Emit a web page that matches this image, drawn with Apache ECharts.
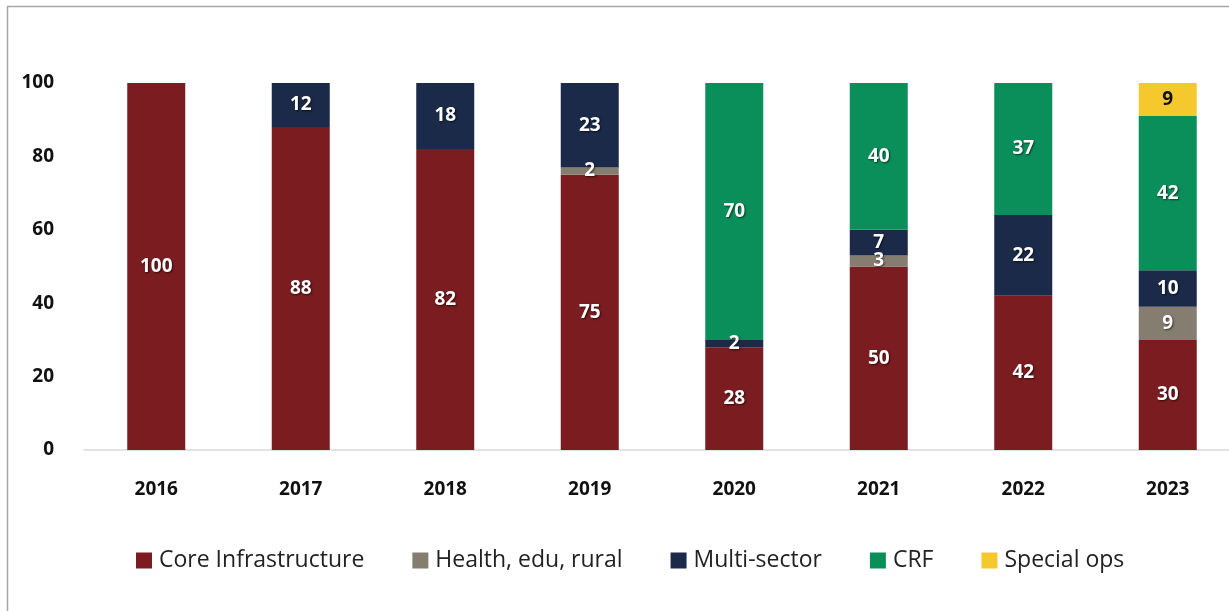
<!DOCTYPE html>
<html><head><meta charset="utf-8">
<script src="https://cdn.jsdelivr.net/npm/echarts@6/dist/echarts.min.js"></script>
<style>html,body{margin:0;padding:0;background:#fff;overflow:hidden}#c{width:1240px;height:611px}</style>
</head><body><div id="c"></div>
<script>
const years = ['2016','2017','2018','2019','2020','2021','2022','2023'];
const coreInfra = [100, 88, 82, 75, 28, 50, 42, 30];
const healthEduRural = [0, 0, 0, 2, 0, 3, 0, 9];
const multiSector = [0, 12, 18, 23, 2, 7, 22, 10];
const crf = [0, 0, 0, 0, 70, 40, 37, 42];
const specialOps = [0, 0, 0, 0, 0, 0, 0, 9];
const yTicks = [0, 20, 40, 60, 80, 100];

const FONT = '"Open Sans", "Noto Sans", sans-serif';
function mk(name, data, color, labelColor, shadow) {
  return {
    name, type: 'bar', stack: 'a', data, barWidth: 58,
    itemStyle: { color },
    label: {
      show: true, position: 'inside', fontFamily: FONT, fontWeight: 'bold', fontSize: 19,
      color: labelColor,
      textShadowColor: shadow ? 'rgba(0,0,0,0.6)' : 'transparent',
      textShadowBlur: shadow ? 2 : 0, textShadowOffsetX: shadow ? 1 : 0, textShadowOffsetY: shadow ? 1 : 0,
      formatter: p => p.value ? String(p.value) : ''
    }
  };
}
const chart = echarts.init(document.getElementById('c'));
chart.setOption({
  animation: false,
  backgroundColor: '#fff',
  graphic: [{ type: 'rect', shape: { x: 7.5, y: 6.5, width: 1300, height: 700 }, style: { fill: 'none', stroke: '#a6a6a6', lineWidth: 1.5 }, z: -1 }],
  grid: { left: 84, right: 0, top: 83, bottom: 161, containLabel: false },
  legend: {
    left: 131, top: 544, itemWidth: 16, itemHeight: 16, itemGap: 48, icon: 'rect',
    textStyle: { fontFamily: FONT, fontSize: 23, color: '#222', padding: [0, 0, 0, 2] },
    data: ['Core Infrastructure', 'Health, edu, rural', 'Multi-sector', 'CRF', 'Special ops']
  },
  xAxis: {
    type: 'category', data: years,
    axisLine: { lineStyle: { color: '#d9d9d9', width: 1.5 } },
    axisTick: { show: false },
    axisLabel: { fontFamily: FONT, fontWeight: 'bold', fontSize: 19, color: '#111', margin: 30 }
  },
  yAxis: {
    type: 'value', min: 0, max: 100, interval: 20,
    splitLine: { show: false }, axisLine: { show: false }, axisTick: { show: false },
    axisLabel: { fontFamily: FONT, fontWeight: 'bold', fontSize: 19, color: '#111', margin: 30,
      formatter: v => yTicks.includes(v) ? String(v) : '' }
  },
  series: [
    mk('Core Infrastructure', coreInfra, '#7a1c20', '#fff', true),
    mk('Health, edu, rural', healthEduRural, '#857d70', '#fff', true),
    mk('Multi-sector', multiSector, '#1b2a48', '#fff', true),
    mk('CRF', crf, '#0b8f5a', '#fff', true),
    mk('Special ops', specialOps, '#f5c82e', '#111', false)
  ]
});
</script></body></html>
